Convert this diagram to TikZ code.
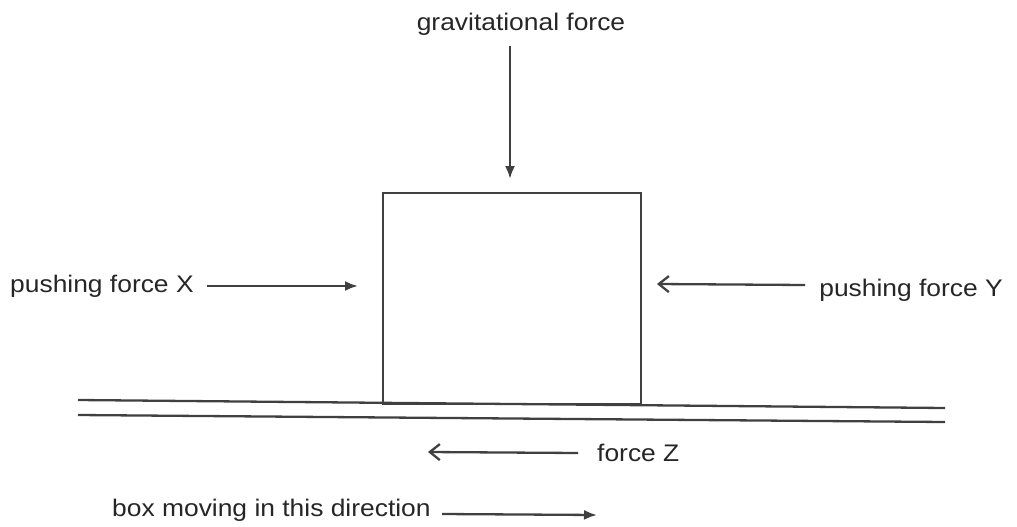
\documentclass[tikz,border=0pt]{standalone}
\usepackage{fontspec}
\setmainfont{Liberation Sans}
\usetikzlibrary{arrows.meta}
\begin{document}
\begin{tikzpicture}[x=1pt,y=-1pt,
  ink/.style={draw=black!75, line width=2.3pt},
  lbl/.style={font=\fontsize{24}{24}\selectfont, text=black!85, inner sep=0pt, xscale=1.1, transform shape},
  filled/.style={ink, -{Latex[length=13pt,width=10pt]}},
  open/.style={ink, -{Straight Barb[length=10pt,width=16pt]}}]
\useasboundingbox (0,0) rectangle (1017,527);
\node[lbl] (grav) at (521,24) {gravitational force};
\coordinate (gtop) at (510,46);
\coordinate (gbot) at (510,179);
\draw[filled] (gtop) -- (gbot);
\node[ink, minimum width=258pt, minimum height=211pt, inner sep=0pt] (box) at (512,298.5) {};
\node[lbl, anchor=west] (px) at (10,286) {pushing force X};
\coordinate (xs) at (207,286);
\coordinate (xe) at (358,286);
\draw[filled] (xs) -- (xe);
\node[lbl, anchor=east] (py) at (1003,290) {pushing force Y};
\coordinate (ys) at (805,285);
\coordinate (ye) at (657,284);
\draw[open] (ys) -- (ye);
\coordinate (g1a) at (78,400);
\coordinate (g1b) at (945,408);
\coordinate (g2a) at (78,415);
\coordinate (g2b) at (945,422);
\draw[ink] (g1a) -- (g1b);
\draw[ink] (g2a) -- (g2b);
\node[lbl, anchor=west] (fz) at (597,453) {force Z};
\coordinate (zs) at (578,453);
\coordinate (ze) at (428,452);
\draw[open] (zs) -- (ze);
\node[lbl, anchor=west] (bm) at (112,510) {box moving in this direction};
\coordinate (ms) at (442,514);
\coordinate (me) at (597,515);
\draw[filled] (ms) -- (me);
\end{tikzpicture}
\end{document}
